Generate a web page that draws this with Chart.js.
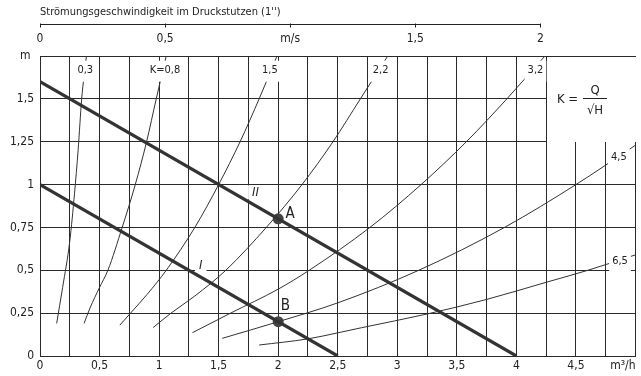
<!DOCTYPE html>
<html>
<head>
<meta charset="utf-8">
<script src="https://cdn.jsdelivr.net/npm/chart.js@4/dist/chart.umd.min.js"></script>
<style>
  html, body { margin: 0; padding: 0; background: #fff; }
  canvas { display: block; }
</style>
</head>
<body>
<canvas id="c" width="641" height="376"></canvas>
<script>
// ---- data (Q in m³/h, H in m) ----
const curveK03 = [[0.14,0.19],[0.19,0.4],[0.25,0.67],[0.29,0.95],[0.32,1.2],[0.35,1.5],[0.39,1.75]];
const curveK08 = [[0.37,0.19],[0.42,0.28],[0.5,0.4],[0.57,0.5],[0.69,0.75],[0.8,1.0],[0.895,1.25],[0.976,1.5],[1.06,1.75]];
const curveK15 = [[0.67,0.18],[0.76,0.25],[0.9,0.36],[1.06,0.5],[1.3,0.75],[1.5,1.0],[1.68,1.25],[1.84,1.5],[1.99,1.75]];
const curveK22 = [[0.95,0.166],[1.1,0.25],[1.3,0.35],[1.56,0.5],[1.9,0.75],[2.2,1.0],[2.46,1.25],[2.69,1.5],[2.92,1.75]];
const curveK32 = [[1.28,0.136],[1.6,0.25],[2.0,0.39],[2.26,0.5],[2.77,0.75],[3.2,1.0],[3.58,1.25],[3.92,1.5],[4.24,1.75]];
const curveK45 = [[1.53,0.103],[2.0,0.2],[2.5,0.31],[3.18,0.5],[3.9,0.75],[4.5,1.0],[5.0,1.23]];
const curveK65 = [[1.84,0.064],[2.25,0.1],[2.5,0.135],[2.7,0.165],[3.25,0.245],[3.75,0.33],[4.25,0.43],[4.6,0.5],[5.0,0.59]];
const kCurves = [curveK03, curveK08, curveK15, curveK22, curveK32, curveK45, curveK65];

const lineI  = [[0,1.0],[2.5,0]];
const lineII = [[0,1.6],[4,0]];
const pointA = [2,0.8];
const pointB = [2,0.2];

const xTickValues = [0,0.5,1,1.5,2,2.5,3,3.5,4,4.5];
const xTickLabels = ['0','0,5','1','1,5','2','2,5','3','3,5','4','4,5'];
const yTickValues = [0,0.25,0.5,0.75,1,1.25,1.5,1.75];
const yTickLabels = ['0','0,25','0,5','0,75','1','1,25','1,5','m '];
const topTickValues = [0,0.5,1,1.5,2];
const topTickLabels = ['0','0,5','m/s','1,5','2'];
const velocityMax = 2.38;   // m/s at the right edge (2 m/s ≙ 4,2 m³/h)

const curveLabelText = ['0,3','K=0,8','1,5','2,2','3,2','4,5','6,5'];
const curveLabelAt = [[0.38,1.67],[1.05,1.67],[1.93,1.67],[2.86,1.67],[4.16,1.67],[4.86,1.16],[4.87,0.555]];

// ---- chart ----
const FONT = "'DejaVu Sans Condensed','Liberation Sans Narrow','DejaVu Sans',sans-serif";
const INK = '#222';
const GRID = '#2a2a2a';
const toXY = a => a.map(([x,y]) => ({x, y}));

const datasets = [];
kCurves.forEach(c => datasets.push({
  data: toXY(c), showLine: true, pointRadius: 0, borderColor: '#333', borderWidth: 1,
  cubicInterpolationMode: 'monotone'
}));
[lineI, lineII].forEach(l => datasets.push({
  data: toXY(l), showLine: true, pointRadius: 0, borderColor: '#333', borderWidth: 3.2
}));
datasets.push({
  data: toXY([pointA, pointB]), showLine: false, pointRadius: 5.5,
  backgroundColor: '#444', borderColor: '#444', borderWidth: 0
});

function labelOf(values, labels, v) {
  const i = values.findIndex(t => Math.abs(t - v) < 1e-6);
  return i >= 0 ? labels[i] : '';
}

const overlay = {
  id: 'overlay',
  beforeDatasetsDraw(chart) {
    const {ctx, scales: {x, y}} = chart;
    // blank box for the formula
    const l = Math.round(x.getPixelForValue(4.25)) + 1;
    const r = Math.round(x.getPixelForValue(5.0));
    const t = Math.round(y.getPixelForValue(1.75)) + 1;
    const b = Math.round(y.getPixelForValue(1.25));
    ctx.save();
    ctx.fillStyle = '#fff';
    ctx.fillRect(l, t, r - l, b - t);
    ctx.restore();
  },
  afterDatasetsDraw(chart) {
    const {ctx, chartArea: ca, scales: {x, y}} = chart;
    ctx.save();
    ctx.beginPath();
    ctx.rect(ca.left + 1, ca.top + 1, ca.right - ca.left - 2, ca.bottom - ca.top - 2);
    ctx.clip();
    ctx.textAlign = 'center';
    ctx.textBaseline = 'middle';
    // curve labels on white
    ctx.font = "11px " + FONT;
    curveLabelText.forEach((txt, i) => {
      const px = x.getPixelForValue(curveLabelAt[i][0]);
      const py = y.getPixelForValue(curveLabelAt[i][1]);
      const w = ctx.measureText(txt).width;
      ctx.fillStyle = '#fff';
      ctx.fillRect(px - w/2 - 3, py - 9, w + 6, 21);
      ctx.fillStyle = INK;
      ctx.fillText(txt, px, py);
    });
    // operating line labels
    ctx.font = "italic 13px " + FONT;
    [['II',1.81,0.955],['I',1.35,0.53]].forEach(([txt,q,h]) => {
      const px = x.getPixelForValue(q), py = y.getPixelForValue(h);
      const w = ctx.measureText(txt).width;
      ctx.fillStyle = '#fff';
      ctx.fillRect(px - w/2 - 4, py - 7, w + 8, 14);
      ctx.fillStyle = INK;
      ctx.fillText(txt, px, py);
    });
    ctx.font = "15px " + FONT;
    ctx.fillStyle = INK;
    ctx.fillText('A', x.getPixelForValue(2.1), y.getPixelForValue(0.83));
    ctx.fillText('B', x.getPixelForValue(2.06), y.getPixelForValue(0.29));
    // formula K = Q / √H
    const my = y.getPixelForValue(1.5);
    const fx = x.getPixelForValue(4.66);
    ctx.font = "13px " + FONT;
    ctx.textAlign = 'left';
    ctx.fillText('K =', x.getPixelForValue(4.34), my + 1);
    ctx.textAlign = 'center';
    ctx.fillText('Q', fx, my - 8);
    ctx.fillText('\u221AH', fx, my + 12);
    ctx.strokeStyle = INK;
    ctx.lineWidth = 1;
    ctx.beginPath();
    ctx.moveTo(fx - 12, Math.round(my) - 0.5);
    ctx.lineTo(fx + 12, Math.round(my) - 0.5);
    ctx.stroke();
    ctx.restore();
  },
  afterDraw(chart) {
    const {ctx} = chart;
    const s = chart.scales.x2;
    const yLine = Math.round(s.bottom - 32) + 0.5;
    ctx.save();
    ctx.strokeStyle = INK;
    ctx.lineWidth = 1;
    ctx.beginPath();
    const x0 = Math.round(s.getPixelForValue(topTickValues[0])) + 0.5;
    const x1 = Math.round(s.getPixelForValue(topTickValues[topTickValues.length - 1])) + 0.5;
    ctx.moveTo(x0, yLine); ctx.lineTo(x1, yLine);
    topTickValues.forEach(v => {
      const px = Math.round(s.getPixelForValue(v)) + 0.5;
      ctx.moveTo(px, yLine - 1); ctx.lineTo(px, yLine + 3);
    });
    ctx.stroke();
    ctx.restore();
  }
};

new Chart(document.getElementById('c'), {
  type: 'scatter',
  data: { datasets },
  options: {
    responsive: false,
    animation: false,
    devicePixelRatio: 1,
    layout: { padding: { left: 0, right: 4, top: 0, bottom: 0 } },
    plugins: { legend: { display: false }, tooltip: { enabled: false } },
    scales: {
      x: {
        type: 'linear', position: 'bottom', min: 0, max: 5,
        afterBuildTicks: sc => { sc.ticks = []; for (let i = 0; i <= 20; i++) sc.ticks.push({ value: i * 0.25 }); },
        afterFit: sc => { sc.height = 20; },
        grid: { color: GRID, lineWidth: 1, drawTicks: false },
        border: { display: true, color: GRID, width: 1 },
        ticks: {
          autoSkip: false, maxRotation: 0, padding: 3, color: INK,
          font: { family: FONT, size: 12 },
          callback: v => labelOf(xTickValues, xTickLabels, v)
        },
        title: { display: true, text: 'm³/h', align: 'end', color: INK,
                 font: { family: FONT, size: 12 }, padding: { top: 0, bottom: 3 } }
      },
      y: {
        type: 'linear', position: 'left', min: 0, max: 1.75,
        afterBuildTicks: sc => { sc.ticks = yTickValues.map(v => ({ value: v })); },
        afterFit: sc => { sc.width = 40; },
        grid: { color: GRID, lineWidth: 1, drawTicks: false },
        border: { display: true, color: GRID, width: 1 },
        ticks: {
          autoSkip: false, padding: 6, color: INK,
          font: { family: FONT, size: 12 },
          callback: v => labelOf(yTickValues, yTickLabels, v)
        }
      },
      x2: {
        type: 'linear', position: 'top', min: 0, max: velocityMax,
        afterBuildTicks: sc => { sc.ticks = topTickValues.map(v => ({ value: v })); },
        afterFit: sc => { sc.height = 56; },
        grid: { display: false, drawTicks: false },
        border: { display: false },
        ticks: {
          autoSkip: false, maxRotation: 0, padding: 10, color: INK,
          font: { family: FONT, size: 12 },
          callback: v => labelOf(topTickValues, topTickLabels, v)
        },
        title: { display: true, text: 'Strömungsgeschwindigkeit im Druckstutzen (1\'\')', align: 'start',
                 color: INK, font: { family: FONT, size: 11 }, padding: { top: 6, bottom: 0 } }
      }
    }
  },
  plugins: [overlay]
});
</script>
</body>
</html>
